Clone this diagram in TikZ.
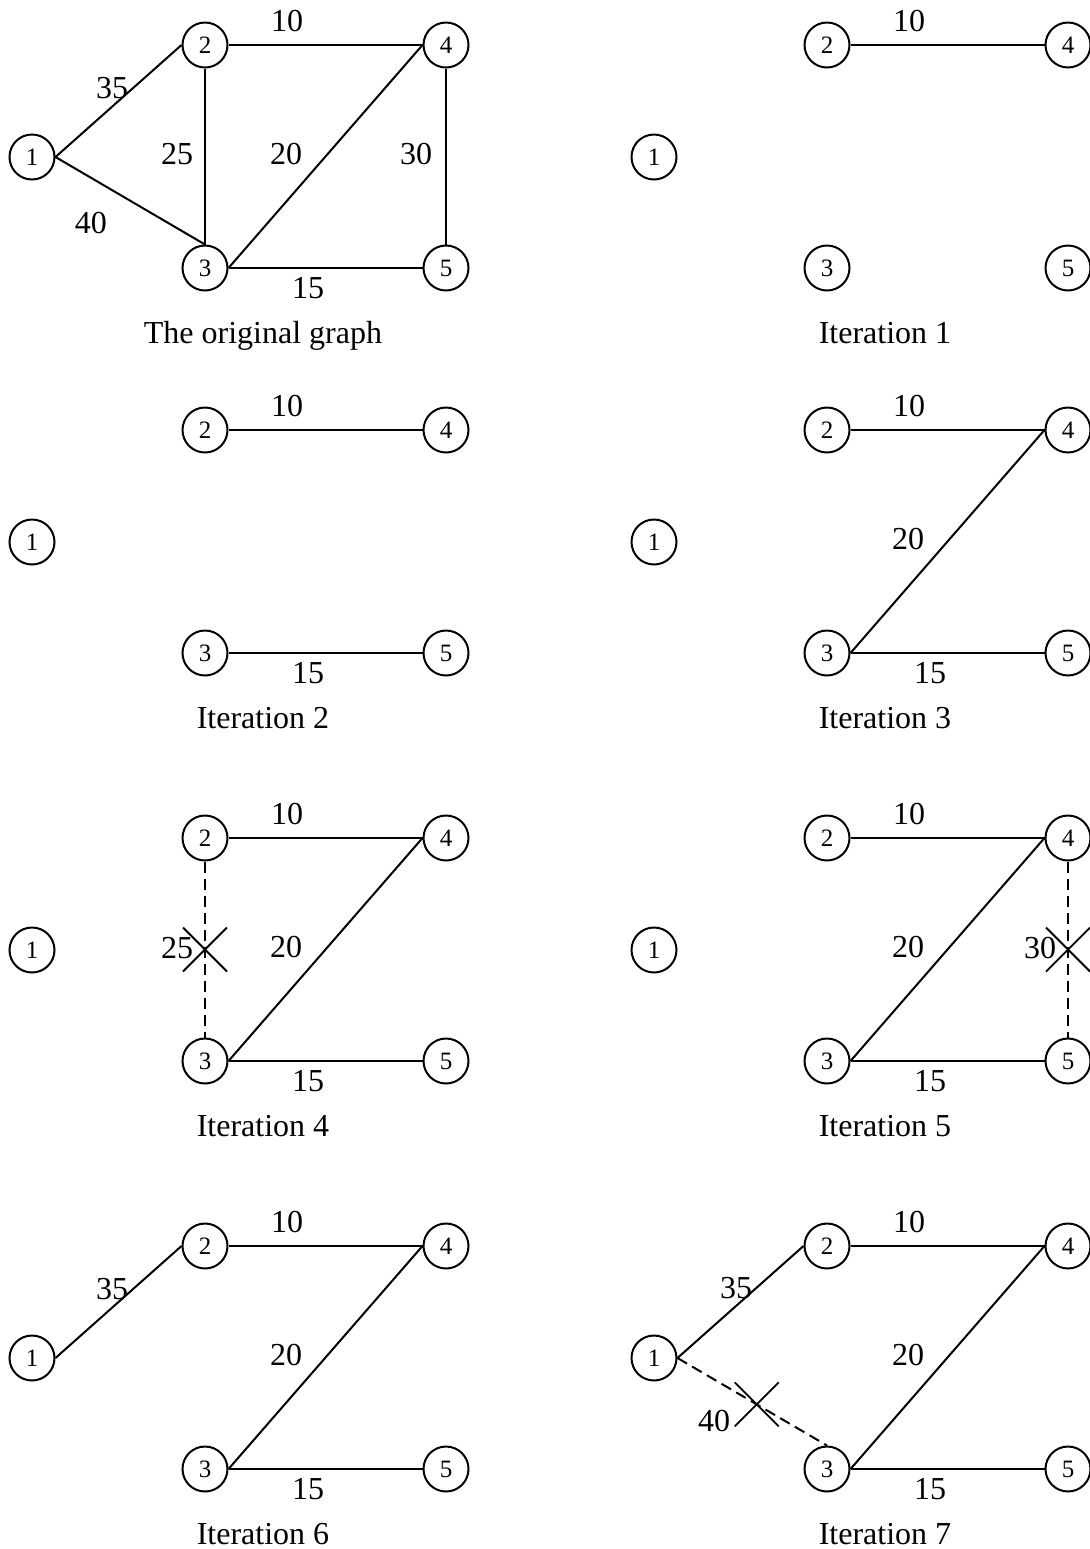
\documentclass[tikz,border=0pt]{standalone}
\usepackage{fontspec}
\setmainfont{Liberation Serif}
\usetikzlibrary{calc}
\tikzset{
  vtx/.style={draw, circle, line width=1pt, minimum size=22.5pt, inner sep=0pt, font=\fontsize{12.5}{14}\selectfont},
  lnk/.style={line width=1pt},
  cutline/.style={line width=1pt, dash pattern=on 5.5pt off 3pt},
  xmark/.style={line width=0.9pt},
  lbl/.style={inner sep=0pt, font=\fontsize{16}{19}\selectfont},
  captxt/.style={inner sep=0pt, anchor=base, font=\fontsize{16}{19}\selectfont}
}
\newcommand\fivenodes[1]{%
  \node[vtx] (#11) at (32,112) {1};
  \node[vtx] (#12) at (205,0) {2};
  \node[vtx] (#14) at (446,0) {4};
  \node[vtx] (#13) at (205,223) {3};
  \node[vtx] (#15) at (446,223) {5};
}
\begin{document}
\begin{tikzpicture}[x=0.5pt,y=-0.5pt]
\useasboundingbox (0,0) rectangle (1089,1549);
% Original graph
\begin{scope}[shift={(0,45)}]
  \fivenodes{a}
  \draw[lnk] (a1.east) -- (a2.west);
  \draw[lnk] (a1.east) -- (a3.north);
  \draw[lnk] (a2.south) -- (a3.north);
  \draw[lnk] (a2.east) -- (a4.west);
  \draw[lnk] (a3.east) -- (a4.west);
  \draw[lnk] (a4.south) -- (a5.north);
  \draw[lnk] (a3.east) -- (a5.west);
  \node[lbl] (a10) at (287,-24) {10};
  \node[lbl] (a35) at (112,43) {35};
  \node[lbl] (a25) at (177,109) {25};
  \node[lbl] (a20) at (286,109) {20};
  \node[lbl] (a30) at (416,109) {30};
  \node[lbl] (a40) at (91,178) {40};
  \node[lbl] (a15) at (308,243) {15};
  \node[captxt] (acap) at (263,298) {The original graph};
\end{scope}
% Iteration 1
\begin{scope}[shift={(622,45)}]
  \fivenodes{b}
  \draw[lnk] (b2.east) -- (b4.west);
  \node[lbl] (b10) at (287,-24) {10};
  \node[captxt] (bcap) at (263,298) {Iteration 1};
\end{scope}
% Iteration 2
\begin{scope}[shift={(0,430)}]
  \fivenodes{c}
  \draw[lnk] (c2.east) -- (c4.west);
  \draw[lnk] (c3.east) -- (c5.west);
  \node[lbl] (c10) at (287,-24) {10};
  \node[lbl] (c15) at (308,243) {15};
  \node[captxt] (ccap) at (263,298) {Iteration 2};
\end{scope}
% Iteration 3
\begin{scope}[shift={(622,430)}]
  \fivenodes{d}
  \draw[lnk] (d2.east) -- (d4.west);
  \draw[lnk] (d3.east) -- (d4.west);
  \draw[lnk] (d3.east) -- (d5.west);
  \node[lbl] (d10) at (287,-24) {10};
  \node[lbl] (d20) at (286,109) {20};
  \node[lbl] (d15) at (308,243) {15};
  \node[captxt] (dcap) at (263,298) {Iteration 3};
\end{scope}
% Iteration 4
\begin{scope}[shift={(0,838)}]
  \fivenodes{e}
  \draw[lnk] (e2.east) -- (e4.west);
  \draw[lnk] (e3.east) -- (e4.west);
  \draw[lnk] (e3.east) -- (e5.west);
  \draw[cutline] (e2.south) -- (e3.north);
  \coordinate (ex) at ($(e2.south)!0.5!(e3.north)$);
  \draw[xmark] ([shift={(-22,-22)}]ex) -- ([shift={(22,22)}]ex);
  \draw[xmark] ([shift={(-22,22)}]ex) -- ([shift={(22,-22)}]ex);
  \node[lbl] (e10) at (287,-24) {10};
  \node[lbl] (e25) at (177,110) {25};
  \node[lbl] (e20) at (286,109) {20};
  \node[lbl] (e15) at (308,243) {15};
  \node[captxt] (ecap) at (263,298) {Iteration 4};
\end{scope}
% Iteration 5
\begin{scope}[shift={(622,838)}]
  \fivenodes{f}
  \draw[lnk] (f2.east) -- (f4.west);
  \draw[lnk] (f3.east) -- (f4.west);
  \draw[lnk] (f3.east) -- (f5.west);
  \draw[cutline] (f4.south) -- (f5.north);
  \coordinate (fx) at ($(f4.south)!0.5!(f5.north)$);
  \draw[xmark] ([shift={(-22,-22)}]fx) -- ([shift={(22,22)}]fx);
  \draw[xmark] ([shift={(-22,22)}]fx) -- ([shift={(22,-22)}]fx);
  \node[lbl] (f10) at (287,-24) {10};
  \node[lbl] (f20) at (286,109) {20};
  \node[lbl] (f30) at (418,110) {30};
  \node[lbl] (f15) at (308,243) {15};
  \node[captxt] (fcap) at (263,298) {Iteration 5};
\end{scope}
% Iteration 6
\begin{scope}[shift={(0,1246)}]
  \fivenodes{g}
  \draw[lnk] (g1.east) -- (g2.west);
  \draw[lnk] (g2.east) -- (g4.west);
  \draw[lnk] (g3.east) -- (g4.west);
  \draw[lnk] (g3.east) -- (g5.west);
  \node[lbl] (g10) at (287,-24) {10};
  \node[lbl] (g35) at (112,43) {35};
  \node[lbl] (g20) at (286,109) {20};
  \node[lbl] (g15) at (308,243) {15};
  \node[captxt] (gcap) at (263,298) {Iteration 6};
\end{scope}
% Iteration 7
\begin{scope}[shift={(622,1246)}]
  \fivenodes{h}
  \draw[lnk] (h1.east) -- (h2.west);
  \draw[lnk] (h2.east) -- (h4.west);
  \draw[lnk] (h3.east) -- (h4.west);
  \draw[lnk] (h3.east) -- (h5.west);
  \draw[cutline] (h1.east) -- (h3.north);
  \coordinate (hx) at ($(h1.east)!0.53!(h3.north)$);
  \draw[xmark] ([shift={(-22,-22)}]hx) -- ([shift={(22,22)}]hx);
  \draw[xmark] ([shift={(-22,22)}]hx) -- ([shift={(22,-22)}]hx);
  \node[lbl] (h10) at (287,-24) {10};
  \node[lbl] (h35) at (114,42) {35};
  \node[lbl] (h20) at (286,109) {20};
  \node[lbl] (h40) at (92,175) {40};
  \node[lbl] (h15) at (308,243) {15};
  \node[captxt] (hcap) at (263,298) {Iteration 7};
\end{scope}
\end{tikzpicture}
\end{document}
